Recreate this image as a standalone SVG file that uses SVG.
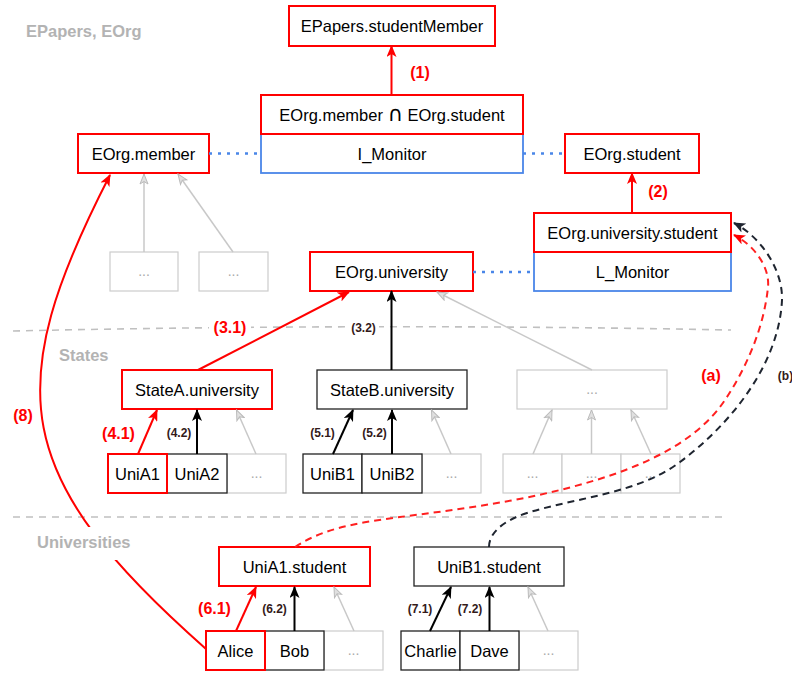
<svg xmlns="http://www.w3.org/2000/svg" width="792" height="675" viewBox="0 0 792 675">
  <style>
    .r { fill:#fff; stroke:#ff0000; stroke-width:2; }
    .k { fill:#fff; stroke:#222; stroke-width:1.3; }
    .g { fill:#fff; stroke:#cccccc; stroke-width:1.2; }
    .b { fill:#fff; stroke:#4a86e8; stroke-width:1.8; }
    text { font-family:"Liberation Sans", Arial, "DejaVu Sans", sans-serif; }
    .t { font-size:16.5px; fill:#000; text-anchor:middle; }
    .cap { font-family:"DejaVu Sans", sans-serif; font-size:21px; }
    .dots { font-size:14px; fill:#aaaaaa; text-anchor:middle; }
    .sec { font-size:16.5px; font-weight:bold; fill:#b3b3b3; }
    .lr { font-size:16px; font-weight:bold; fill:#ff0000; text-anchor:middle; }
    .lk { font-size:12px; font-weight:bold; fill:#331a1a; text-anchor:middle; }
    .er { fill:none; stroke:#ff0000; stroke-width:2; marker-end:url(#ar); }
    .ek { fill:none; stroke:#000; stroke-width:2; marker-end:url(#ak); }
    .eg { fill:none; stroke:#c8c8c8; stroke-width:1.5; marker-end:url(#ag); }
    .dr { fill:none; stroke:#ff2020; stroke-width:2; stroke-dasharray:7 5; marker-end:url(#ar); }
    .dk { fill:none; stroke:#1f2530; stroke-width:2; stroke-dasharray:7 5; marker-end:url(#ak2); }
    .dot { fill:none; stroke:#4a86e8; stroke-width:2.5; stroke-dasharray:3 6; }
    .sep { fill:none; stroke:#c0c0c0; stroke-width:1.6; stroke-dasharray:7 6; }
  </style>
  <defs>
    <marker id="ar" viewBox="0 0 12 10" refX="11" refY="5" markerWidth="12" markerHeight="10" markerUnits="userSpaceOnUse" orient="auto">
      <path d="M0,0 L12,5 L0,10 L3,5 Z" fill="#ff0000" stroke="none"/>
    </marker>
    <marker id="ak" viewBox="0 0 12 10" refX="11" refY="5" markerWidth="12" markerHeight="10" markerUnits="userSpaceOnUse" orient="auto">
      <path d="M0,0 L12,5 L0,10 L3,5 Z" fill="#000" stroke="none"/>
    </marker>
    <marker id="ak2" viewBox="0 0 12 10" refX="11" refY="5" markerWidth="12" markerHeight="10" markerUnits="userSpaceOnUse" orient="auto">
      <path d="M0,0 L12,5 L0,10 L3,5 Z" fill="#1f2530" stroke="none"/>
    </marker>
    <marker id="ag" viewBox="0 0 12 10" refX="11" refY="5" markerWidth="12" markerHeight="10" markerUnits="userSpaceOnUse" orient="auto">
      <path d="M1,1 L11,5 L1,9 L3.5,5 Z" fill="#e0e0e0" stroke="#bbbbbb" stroke-width="1"/>
    </marker>
  </defs>

  <!-- section separators and titles -->
  <g id="sections">
    <path class="sep" d="M13,331 Q372,323 731,330"/>
    <path class="sep" d="M13,517 L727,517"/>
    <text class="sec" x="26" y="37">EPapers, EOrg</text>
    <text class="sec" x="59" y="361">States</text>
  </g>

  <!-- top level -->
  <g id="epapers-studentMember">
    <rect class="r" x="289" y="6" width="206" height="40"/>
    <text class="t" x="392" y="32">EPapers.studentMember</text>
  </g>
  <g id="i-monitor">
    <rect class="b" x="261" y="134" width="262" height="39"/>
    <text class="t" x="392" y="159.5">I_Monitor</text>
  </g>
  <g id="member-and-student">
    <rect class="r" x="261" y="95" width="262" height="39"/>
    <text class="t" x="392" y="120.5">EOrg.member <tspan class="cap">∩</tspan> EOrg.student</text>
  </g>
  <g id="eorg-member">
    <rect class="r" x="78" y="134" width="131" height="39"/>
    <text class="t" x="143.5" y="159.5">EOrg.member</text>
  </g>
  <g id="eorg-student">
    <rect class="r" x="565" y="134" width="134" height="39"/>
    <text class="t" x="632" y="159.5">EOrg.student</text>
  </g>
  <g id="member-more-1">
    <rect class="g" x="110" y="252" width="68" height="39"/>
    <text class="dots" x="144" y="276">...</text>
  </g>
  <g id="member-more-2">
    <rect class="g" x="199" y="252" width="69" height="39"/>
    <text class="dots" x="233.5" y="276">...</text>
  </g>
  <g id="eorg-university">
    <rect class="r" x="310" y="252" width="163" height="39"/>
    <text class="t" x="391.5" y="277.5">EOrg.university</text>
  </g>
  <g id="l-monitor">
    <rect class="b" x="534" y="252" width="197" height="39"/>
    <text class="t" x="632.5" y="277.5">L_Monitor</text>
  </g>
  <g id="eorg-university-student">
    <rect class="r" x="534" y="213" width="197" height="39"/>
    <text class="t" x="632.5" y="238.5">EOrg.university.student</text>
  </g>

  <!-- states -->
  <g id="stateA-university">
    <rect class="r" x="122" y="370" width="150" height="39"/>
    <text class="t" x="197" y="395.5">StateA.university</text>
  </g>
  <g id="stateB-university">
    <rect class="k" x="317" y="370" width="150" height="39"/>
    <text class="t" x="392" y="395.5">StateB.university</text>
  </g>
  <g id="state-more">
    <rect class="g" x="517" y="370" width="150" height="39"/>
    <text class="dots" x="592" y="394">...</text>
  </g>

  <g id="uniA-more">
    <rect class="g" x="227" y="454" width="59" height="39"/>
    <text class="dots" x="256.5" y="478">...</text>
  </g>
  <g id="uniA2">
    <rect class="k" x="167" y="454" width="60" height="39"/>
    <text class="t" x="197" y="479.5">UniA2</text>
  </g>
  <g id="uniA1">
    <rect class="r" x="108" y="454" width="59" height="39"/>
    <text class="t" x="137.5" y="479.5">UniA1</text>
  </g>
  <g id="uniB-more">
    <rect class="g" x="422" y="454" width="59" height="39"/>
    <text class="dots" x="451.5" y="478">...</text>
  </g>
  <g id="uniB1">
    <rect class="k" x="303" y="454" width="59" height="39"/>
    <text class="t" x="332.5" y="479.5">UniB1</text>
  </g>
  <g id="uniB2">
    <rect class="k" x="362" y="454" width="60" height="39"/>
    <text class="t" x="392" y="479.5">UniB2</text>
  </g>
  <g id="state-more-children">
    <rect class="g" x="503" y="454" width="59" height="39"/>
    <text class="dots" x="532.5" y="478">...</text>
    <rect class="g" x="562" y="454" width="59" height="39"/>
    <text class="dots" x="591.5" y="478">...</text>
    <rect class="g" x="621" y="454" width="59" height="39"/>
    <text class="dots" x="650.5" y="478">...</text>
  </g>

  <!-- universities -->
  <g id="uniA1-student">
    <rect class="r" x="219" y="547" width="151" height="39"/>
    <text class="t" x="294.5" y="572.5">UniA1.student</text>
  </g>
  <g id="uniB1-student">
    <rect class="k" x="414" y="547" width="150" height="39"/>
    <text class="t" x="489" y="572.5">UniB1.student</text>
  </g>
  <g id="uniA1-more">
    <rect class="g" x="324" y="631" width="59" height="39"/>
    <text class="dots" x="353.5" y="655">...</text>
  </g>
  <g id="bob">
    <rect class="k" x="265" y="631" width="59" height="39"/>
    <text class="t" x="294.5" y="656.5">Bob</text>
  </g>
  <g id="alice">
    <rect class="r" x="206" y="631" width="59" height="39"/>
    <text class="t" x="235.5" y="656.5">Alice</text>
  </g>
  <g id="uniB1-more">
    <rect class="g" x="519" y="631" width="59" height="39"/>
    <text class="dots" x="548.5" y="655">...</text>
  </g>
  <g id="charlie">
    <rect class="k" x="401" y="631" width="59" height="39"/>
    <text class="t" x="430.5" y="656.5">Charlie</text>
  </g>
  <g id="dave">
    <rect class="k" x="460" y="631" width="59" height="39"/>
    <text class="t" x="489.5" y="656.5">Dave</text>
  </g>

  <!-- connectors -->
  <g id="connectors">
    <path class="dot" d="M209,153.5 L261,153.5"/>
    <path class="dot" d="M523,153.5 L565,153.5"/>
    <path class="dot" d="M473,272 L534,272"/>

    <path class="er" d="M391.5,95 L391.5,46"/>
    <path class="er" d="M632,213 L632,173"/>

    <path class="eg" d="M144,252 L144,174"/>
    <path class="eg" d="M233,252 L178,174"/>

    <path class="er" d="M198,370 L349,292"/>
    <path class="ek" d="M391.5,370 L391.5,291"/>
    <path class="eg" d="M592,370 L437,292"/>

    <path class="er" d="M138,454 L157,410"/>
    <path class="ek" d="M197,454 L197,410"/>
    <path class="eg" d="M256,454 L236.5,410"/>
    <path class="ek" d="M333,454 L353,410"/>
    <path class="ek" d="M392,454 L392,410"/>
    <path class="eg" d="M451,454 L431.5,410"/>
    <path class="eg" d="M533,454 L552,410"/>
    <path class="eg" d="M591.5,454 L591.5,410"/>
    <path class="eg" d="M651,454 L631,410"/>

    <path class="er" d="M236,631 L256,587"/>
    <path class="ek" d="M294.5,631 L294.5,587"/>
    <path class="eg" d="M354,631 L334,587"/>
    <path class="ek" d="M430,631 L451,587"/>
    <path class="ek" d="M489.5,631 L489.5,587"/>
    <path class="eg" d="M548,631 L528,587"/>

    <!-- (8) Alice up to EOrg.member -->
    <path class="er" d="M206,649 C11,477 0,389 110,175"/>

    <!-- (a) UniA1.student to EOrg.university.student -->
    <path class="dr" d="M295,547 C325,527 364,522 400,517 C454,510 508,503 560,490 C620,475 691,451 725,400 C747,367 764,327 768,287 C770,267 754,245 734,235"/>
    <!-- (b) UniB1.student to EOrg.university.student -->
    <path class="dk" d="M489,547 C489,532 505,520 527,513 C578,497 637,494 680,462 C731,424 779,364 782,300 C783,270 761,237 734,223"/>
  </g>

  <!-- connector labels -->
  <g id="labels">
    <rect x="30" y="527" width="106" height="33" fill="#fff"/>
    <text class="sec" x="37" y="548">Universities</text>
    <rect x="209" y="318" width="42" height="18" fill="#fff"/>
    <rect x="348" y="319" width="31" height="16" fill="#fff"/>
    <text class="lr" x="420" y="78">(1)</text>
    <text class="lr" x="658" y="197">(2)</text>
    <text class="lr" x="230" y="333">(3.1)</text>
    <text class="lk" x="363.5" y="331.5">(3.2)</text>
    <text class="lr" x="118.5" y="438.5">(4.1)</text>
    <text class="lk" x="179" y="436.5">(4.2)</text>
    <text class="lk" x="322.5" y="436.5">(5.1)</text>
    <text class="lk" x="374.5" y="436.5">(5.2)</text>
    <text class="lr" x="214.5" y="614">(6.1)</text>
    <text class="lk" x="274.5" y="612.5">(6.2)</text>
    <text class="lk" x="420" y="612.5">(7.1)</text>
    <text class="lk" x="470" y="612.5">(7.2)</text>
    <text class="lr" x="23" y="421">(8)</text>
    <text class="lr" x="711" y="381">(a)</text>
    <text class="lk" x="785.5" y="379.5">(b)</text>
  </g>
</svg>
